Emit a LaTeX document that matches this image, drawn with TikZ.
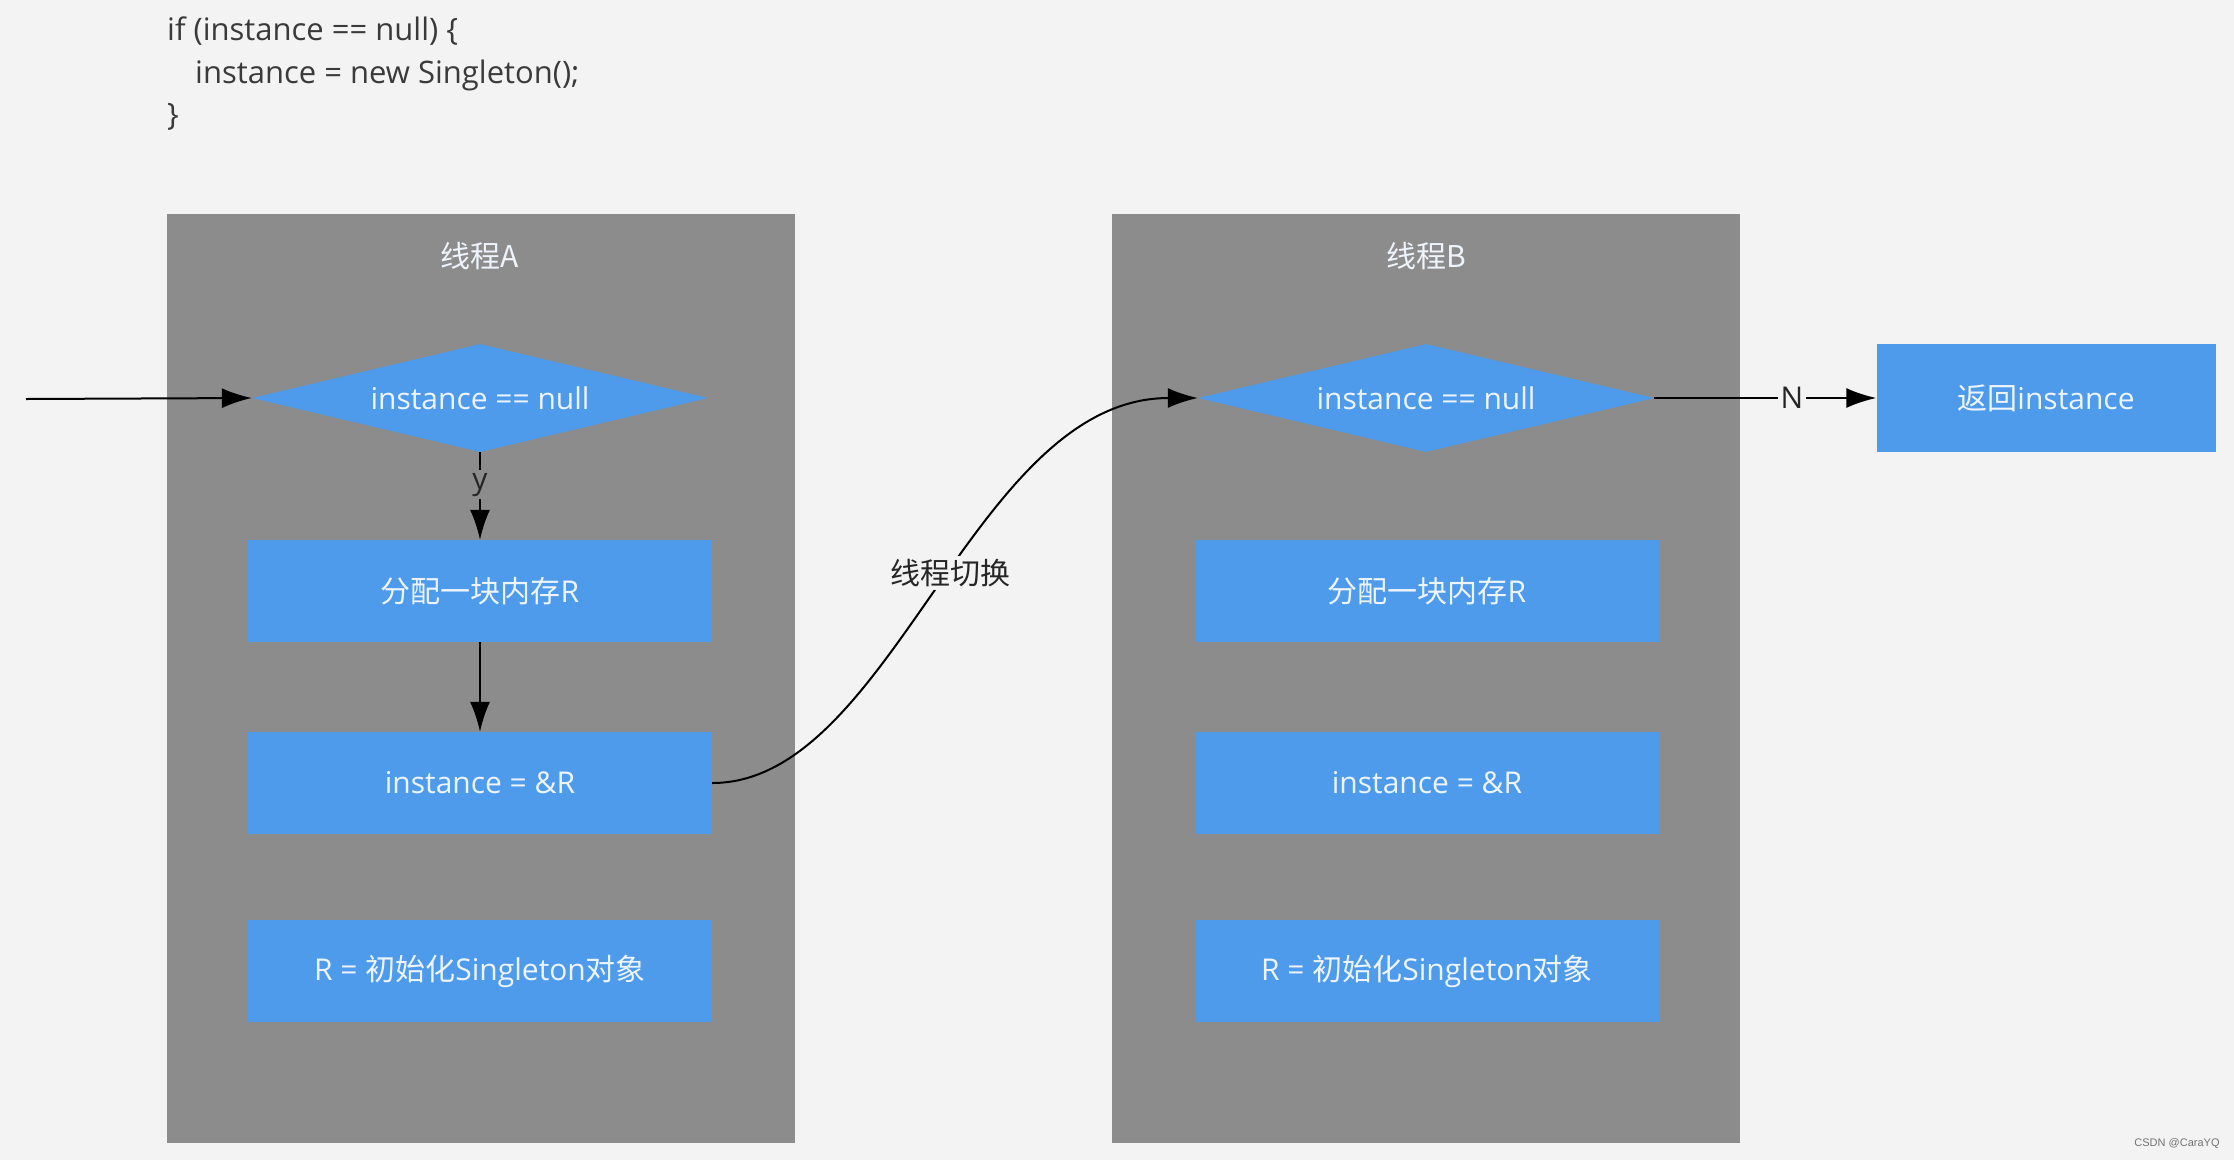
\documentclass[tikz,border=0pt]{standalone}
\usepackage{fontspec}
\setmainfont{Open Sans}
\newfontfamily\cjk{Noto Sans CJK SC}
\newfontfamily\wmfont{Liberation Sans}
\usetikzlibrary{shapes.geometric,arrows.meta}
\definecolor{bg}{HTML}{F3F3F3}
\definecolor{panel}{HTML}{8C8C8C}
\definecolor{blu}{HTML}{4D9BEA}
\definecolor{wtxt}{HTML}{EEF4FB}
\definecolor{codetxt}{HTML}{3A3A3A}
\begin{document}
\begin{tikzpicture}[x=1pt,y=-1pt,
  panelbox/.style={fill=panel, minimum width=628pt, minimum height=929pt, inner sep=0pt},
  box/.style={fill=blu, minimum width=464pt, minimum height=102pt, inner sep=0pt, text=wtxt, font=\fontsize{30}{36}\selectfont},
  dia/.style={diamond, aspect=4.2, fill=blu, minimum width=456pt, minimum height=108pt, inner sep=0pt, text=wtxt, font=\fontsize{30}{36}\selectfont},
  title/.style={text=wtxt, font=\fontsize{30}{36}\selectfont\cjk},
  arr/.style={line width=2pt, -{Latex[length=30pt,width=20pt]}},
  lbl/.style={inner sep=3pt, text=black!85, font=\fontsize{30}{36}\selectfont},
  codeline/.style={anchor=base west, inner sep=0pt, text=codetxt, font=\fontsize{31}{36}\selectfont}]
\path[use as bounding box, fill=bg] (0,0) rectangle (2234,1160);
% code
\node[codeline] (c1) at (167,40) {if (instance == null) \{};
\node[codeline] (c2) at (195,83) {instance = new Singleton();};
\node[codeline] (c3) at (167,125) {\}};
% panels
\node[panelbox] (pa) at (480.5,678.5) {};
\node[panelbox] (pb) at (1425.5,678.5) {};
\node[title] (ta) at (480,256) {线程A};
\node[title] (tb) at (1426,256) {线程B};
% thread A
\node[dia] (da) at (480,398) {instance == null};
\node[box] (a1) at (480,591) {{\cjk 分配一块内存}R};
\node[box] (a2) at (480,783) {instance = \&R};
\node[box] (a3) at (480,971) {R = {\cjk 初始化}Singleton{\cjk 对象}};
% thread B
\node[dia] (db) at (1426,398) {instance == null};
\node[box] (b1) at (1427,591) {{\cjk 分配一块内存}R};
\node[box] (b2) at (1427,783) {instance = \&R};
\node[box] (b3) at (1427,971) {R = {\cjk 初始化}Singleton{\cjk 对象}};
% return
\node[box, minimum width=339pt, minimum height=108pt] (ret) at (2046,398) {{\cjk 返回}instance};
% connectors
\coordinate (start) at (26,399);
\draw[arr] (start) -- (da.west);
\draw[arr] (da.south) -- node[lbl, fill=panel, pos=0.37] {y} (a1.north);
\draw[arr] (a1.south) -- (a2.north);
\draw[arr] (a2.east) .. controls +(180,0) and +(-225,0) .. node[lbl, fill=bg, pos=0.53, font=\fontsize{30}{36}\selectfont\cjk] {线程切换} (db.west);
\draw[arr] (db.east) -- node[lbl, fill=bg, pos=0.62] {N} (ret.west);
% watermark
\node[text=black!55, font=\fontsize{11}{13}\selectfont\wmfont] (wm) at (2177,1144) {CSDN @CaraYQ};
\end{tikzpicture}
\end{document}
